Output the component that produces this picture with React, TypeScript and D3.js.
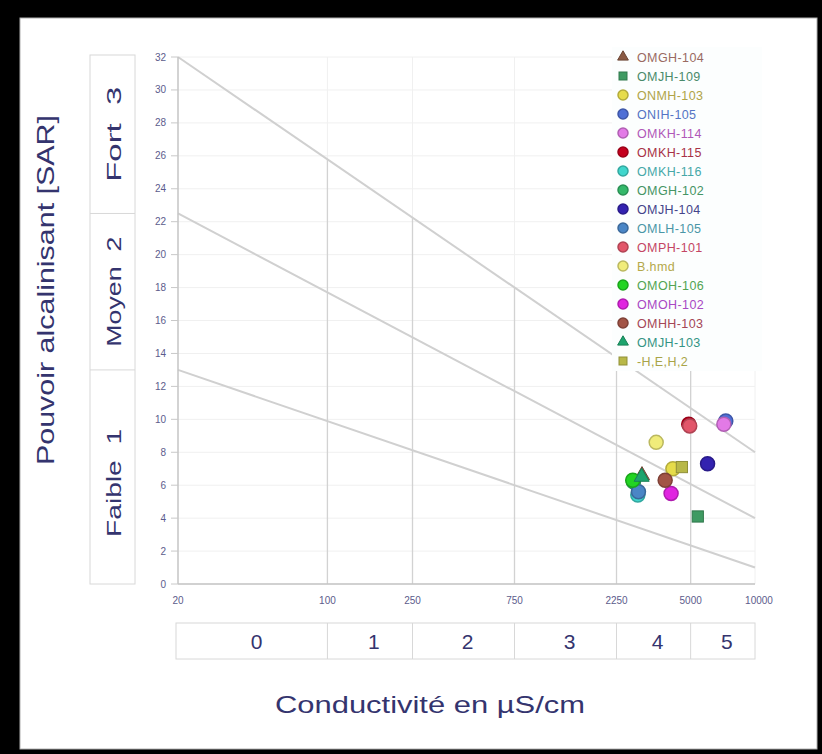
import * as d3 from 'd3'

// Stations (legend order)
const stations = [
  'OMGH-104', 'OMJH-109', 'ONMH-103', 'ONIH-105', 'OMKH-114', 'OMKH-115', 'OMKH-116', 'OMGH-102',
  'OMJH-104', 'OMLH-105', 'OMPH-101', 'B.hmd', 'OMOH-106', 'OMOH-102', 'OMHH-103', 'OMJH-103', '-H,E,H,2',
]
const conductivity = [2960, 5400, 4130, 7300, 7150, 4900, 2830, 2700, 6000, 2850, 4950, 3450, 2680, 4050, 3800, 2950, 4550]
const sarValues = [6.6, 4.1, 7.0, 9.9, 9.7, 9.7, 5.4, 6.2, 7.3, 5.6, 9.6, 8.6, 6.3, 5.5, 6.3, 6.5, 7.1]
const shapes = ['triangle', 'square', 'circle', 'circle', 'circle', 'circle', 'circle', 'circle',
  'circle', 'circle', 'circle', 'circle', 'circle', 'circle', 'circle', 'triangle', 'square']
const fills = ['#8a5a44', '#3f9a62', '#e6dc4a', '#4f6fd6', '#e27ae6', '#c4001e', '#3fd6cc', '#33b86a',
  '#3322b0', '#4a86c6', '#e2566a', '#f0ec7a', '#22d422', '#e024e0', '#a25446', '#1ea46e', '#b8b848']
const textColors = ['#9a6a62', '#4a8a6a', '#b0a448', '#5474c4', '#b058b8', '#a83246', '#46a8a8', '#459464',
  '#44448a', '#4a96a6', '#c44664', '#b4a84a', '#52a452', '#a848c4', '#a44656', '#349484', '#a8a448']

// Axis ticks and classes
const xTicks = [20, 100, 250, 750, 2250, 5000, 10000]
const yTicks = d3.range(0, 33, 2)
const ecBreaks = [100, 250, 750, 2250, 5000]
const ecClasses = ['0', '1', '2', '3', '4', '5']
const sarClasses = ['Fort  3', 'Moyen  2', 'Faible  1']
const sarClassLen = [95, 110, 108]
// Boundary lines: SAR at EC = 20 and at EC = 10000
const boundaryLeft = [32, 22.5, 13]
const boundaryRight = [8, 4, 1]

export default function App() {
  const W = 822, H = 754
  const x = d3.scaleLog().domain([20, 10000]).range([178, 755])
  const y = d3.scaleLinear().domain([0, 32]).range([584, 57])
  const font = '"Liberation Sans", Arial, sans-serif'
  const navy = '#34346e'
  const tickCol = '#5c5c8c'

  const sarOnLine = (i: number, ec: number) => {
    const t = (Math.log10(ec) - Math.log10(20)) / (Math.log10(10000) - Math.log10(20))
    return boundaryLeft[i] + t * (boundaryRight[i] - boundaryLeft[i])
  }

  const marker = (shape: string, cx: number, cy: number, r: number, fill: string, key?: string) => {
    const stroke = d3.color(fill)!.darker(0.7).formatHex()
    if (shape === 'triangle') {
      const p = d3.symbol(d3.symbolTriangle, r * r * 2)()
      return <path key={key} d={p!} transform={`translate(${cx},${cy})`} fill={fill} stroke={stroke} strokeWidth={1} />
    }
    if (shape === 'square') {
      return <rect key={key} x={cx - r * 0.8} y={cy - r * 0.8} width={r * 1.6} height={r * 1.6} fill={fill} stroke={stroke} strokeWidth={1} />
    }
    return <circle key={key} cx={cx} cy={cy} r={r} fill={fill} stroke={stroke} strokeWidth={1.5} />
  }

  const classEdges = [20, ...ecBreaks, 10000]
  const sarEdges = [32, ...boundaryLeft.slice(1), 0]

  return (
    <svg width={W} height={H} style={{ position: 'absolute', left: 0, top: 0, background: '#000' }} fontFamily={font}>
      <rect x={0} y={0} width={W} height={H} fill="#000" />
      <rect x={20} y={18} width={797} height={731} fill="#fff" stroke="#b0b0b0" strokeWidth={1} />

      {/* light grid */}
      {yTicks.map(t => (
        <line key={'gy' + t} x1={x(20)} x2={x(10000)} y1={y(t)} y2={y(t)} stroke="#f0f0f0" />
      ))}
      {xTicks.slice(1).map(t => (
        <line key={'gx' + t} x1={x(t)} x2={x(t)} y1={y(0)} y2={y(32)} stroke="#f0f0f0" />
      ))}

      {/* class separators up to top boundary */}
      {ecBreaks.map(e => (
        <line key={'cb' + e} x1={x(e)} x2={x(e)} y1={y(0)} y2={y(e >= 2250 ? 32 : sarOnLine(0, e))} stroke="#d2d2d2" strokeWidth={1.3} />
      ))}

      {/* boundary lines */}
      {boundaryLeft.map((b, i) => (
        <line key={'bl' + i} x1={x(20)} y1={y(b)} x2={x(10000)} y2={y(boundaryRight[i])} stroke="#d0d0d0" strokeWidth={2} />
      ))}

      {/* axes */}
      <line x1={x(20)} x2={x(20)} y1={y(0)} y2={y(32)} stroke="#c4c4c4" strokeWidth={1.5} />
      <line x1={x(20)} x2={x(10000)} y1={y(0)} y2={y(0)} stroke="#c4c4c4" strokeWidth={1.5} />
      {yTicks.map(t => (
        <g key={'yt' + t}>
          <line x1={x(20) - 7} x2={x(20)} y1={y(t)} y2={y(t)} stroke="#c8c8c8" />
          <text x={166} y={y(t) + 3.5} textAnchor="end" fontSize={10} fill={tickCol}>{t}</text>
        </g>
      ))}
      {xTicks.map(t => (
        <text key={'xt' + t} x={x(t) + (t === 10000 ? 4 : 0)} y={604} textAnchor="middle" fontSize={10} fill={tickCol}>{t}</text>
      ))}

      {/* SAR class boxes */}
      <rect x={90} y={y(32) - 2} width={45} height={y(0) - y(32) + 2} fill="none" stroke="#d8d8d8" />
      {sarClasses.map((c, i) => {
        const y0 = i === 0 ? y(32) - 2 : y(sarEdges[i])
        const y1 = y(sarEdges[i + 1])
        const cy = (y0 + y1) / 2 + (i === 2 ? 6 : 0)
        return (
          <g key={c}>
            {i > 0 && <line x1={90} x2={135} y1={y0} y2={y0} stroke="#d8d8d8" />}
            <text transform={`translate(${121},${cy}) rotate(-90)`} textAnchor="middle" fontSize={21} fill={navy}
              textLength={sarClassLen[i]} lengthAdjust="spacingAndGlyphs" style={{ whiteSpace: 'pre' }}>{c}</text>
          </g>
        )
      })}

      {/* EC class boxes */}
      <rect x={x(20) - 2} y={623} width={x(10000) - x(20) + 2} height={36} fill="none" stroke="#d8d8d8" />
      {ecClasses.map((c, i) => {
        const a = classEdges[i], b = classEdges[i + 1]
        return (
          <g key={'ec' + c}>
            {i > 0 && <line x1={x(a)} x2={x(a)} y1={623} y2={659} stroke="#d8d8d8" />}
            <text x={(x(a) + x(b)) / 2 + 4} y={649} textAnchor="middle" fontSize={21} fill={navy}>{c}</text>
          </g>
        )
      })}

      {/* titles */}
      <text transform="translate(54,290) rotate(-90)" textAnchor="middle" fontSize={24} fill={navy}
        textLength={350} lengthAdjust="spacingAndGlyphs">Pouvoir alcalinisant [SAR]</text>
      <text x={430} y={713} textAnchor="middle" fontSize={24} fill={navy}
        textLength={310} lengthAdjust="spacingAndGlyphs">Conductivité en µS/cm</text>

      {/* legend */}
      <rect x={612} y={47} width={150} height={324} fill="#fcfefe" />
      {stations.map((s, i) => (
        <g key={'lg' + s}>
          {marker(shapes[i], 623, 57 + i * 19, 5, fills[i])}
          <text x={637} y={61.5 + i * 19} fontSize={12.5} fill={textColors[i]} letterSpacing={0.4}>{s}</text>
        </g>
      ))}

      {/* data points */}
      {stations.map((s, i) => marker(shapes[i], x(conductivity[i]), y(sarValues[i]), 7, fills[i], 'pt' + s))}
    </svg>
  )
}
